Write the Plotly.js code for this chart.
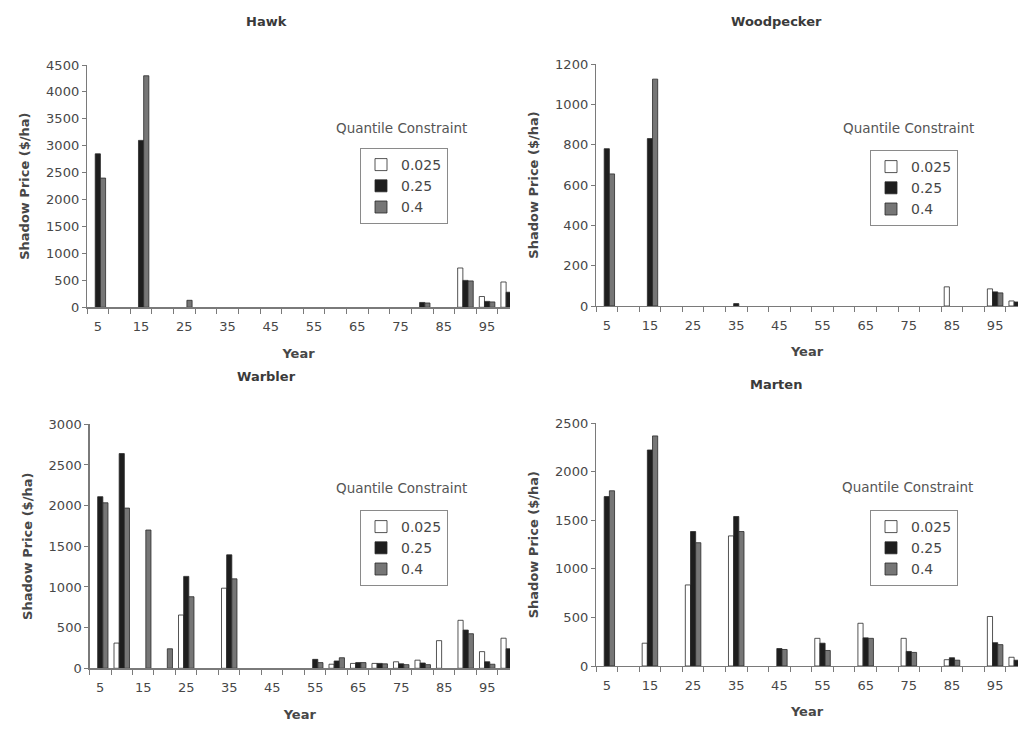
<!DOCTYPE html>
<html><head><meta charset="utf-8">
<script src="https://cdn.plot.ly/plotly-3.0.1.min.js"></script>
<style>html,body{margin:0;padding:0;background:#fff}#chart{width:1018px;height:730px}</style>
</head><body><div id="chart"></div>
<script>
// ---- data ----
const years = [5,10,15,20,25,30,35,40,45,50,55,60,65,70,75,80,85,90,95,100];
const tickLabels = ['5','15','25','35','45','55','65','75','85','95'];
const seriesNames = ['0.025','0.25','0.4'];
const speciesNames = ['Hawk','Woodpecker','Warbler','Marten'];

const hawk_q025 = [0,0,0,0,0,0,0,0,0,0,0,0,0,0,0,0,0,730,200,470];
const hawk_q25  = [2850,0,3100,0,0,0,0,0,0,0,0,0,0,0,0,90,0,500,110,280];
const hawk_q4   = [2400,0,4300,0,130,0,0,0,0,0,0,0,0,0,0,80,0,490,100,260];

const woodpecker_q025 = [0,0,0,0,0,0,0,0,0,0,0,0,0,0,0,0,95,0,85,25];
const woodpecker_q25  = [780,0,830,0,0,0,12,0,0,0,0,0,0,0,0,0,0,0,70,20];
const woodpecker_q4   = [655,0,1125,0,0,0,0,0,0,0,0,0,0,0,0,0,0,0,65,0];

const warbler_q025 = [0,310,0,0,655,0,985,0,0,0,0,50,60,60,80,100,340,590,205,370];
const warbler_q25  = [2110,2640,0,0,1130,0,1395,0,0,0,110,90,70,60,55,65,0,470,80,240];
const warbler_q4   = [2035,1970,1700,240,880,0,1100,0,0,0,70,130,70,55,45,45,0,425,50,240];

const marten_q025 = [0,0,235,0,835,0,1340,0,0,0,285,0,440,0,285,0,65,0,510,90];
const marten_q25  = [1745,0,2225,0,1385,0,1540,0,180,0,235,0,290,0,150,0,85,0,240,60];
const marten_q4   = [1805,0,2370,0,1270,0,1385,0,170,0,160,0,285,0,140,0,60,0,220,50];

const yMax = [4500,1200,3000,2500];
const yStep = [500,200,500,500];

const allData = [
  [hawk_q025, hawk_q25, hawk_q4],
  [woodpecker_q025, woodpecker_q25, woodpecker_q4],
  [warbler_q025, warbler_q25, warbler_q4],
  [marten_q025, marten_q25, marten_q4]
];

// ---- styles ----
const FONT = 'DejaVu Sans, Arial, sans-serif';
const TXT = '#474747';
const AXC = '#7a7a7a';
const fills = ['#ffffff','#1e1e1e','#767676'];
const W = 1018, H = 730;
const px = v => v / W;
const py = v => (H - v) / H;

// panel geometry in pixels: [left, right, top, bottom]
const panels = [
  [87, 510, 65, 307.3],
  [596, 1018, 64, 306],
  [89.5, 510, 424.3, 668.3],
  [596, 1018, 423.3, 666]
];
const titlePos = [[266,22],[776,22],[266,377],[776,384]];
const legPos = [[360,148],[870,150],[360,510],[870,510]];
const legTitlePos = [[401,128],[908,128],[401,488],[907,487]];

const cats = years.map(String);
// every other category is labelled, as in the original
const catText = cats.map(c => tickLabels.includes(c) ? c : '');
// the original plot is cut off at the middle of the last category
const xRange = [-0.5, years.length - 1 + 0.06];

const traces = [];
const layout = {
  width: W, height: H,
  margin: {l:0, r:0, t:0, b:0},
  paper_bgcolor: '#ffffff', plot_bgcolor: '#ffffff',
  barmode: 'group', bargap: 0.28, bargroupgap: 0,
  font: {family: FONT, color: TXT, size: 13},
  showlegend: true,
  annotations: []
};

speciesNames.forEach((sp, i) => {
  const n = i + 1;
  const xa = n === 1 ? 'x' : 'x' + n;
  const ya = n === 1 ? 'y' : 'y' + n;
  const lg = n === 1 ? 'legend' : 'legend' + n;
  seriesNames.forEach((s, j) => {
    traces.push({
      type: 'bar', x: cats, y: allData[i][j].map(v => v === 0 ? null : v), name: s,
      xaxis: xa, yaxis: ya, legend: lg,
      marker: {color: fills[j], line: {color: '#2a2a2a', width: 0.8}},
      hovertemplate: sp + ' ' + s + ': %{y}<extra></extra>'
    });
  });
  const p = panels[i];
  layout[n === 1 ? 'xaxis' : 'xaxis' + n] = {
    type: 'category', categoryorder: 'array', categoryarray: cats,
    domain: [px(p[0]), px(p[1])], anchor: ya,
    range: xRange, tickmode: 'array', tickvals: cats, ticktext: catText,
    tickson: 'boundaries', tickangle: 0,
    ticks: 'outside', ticklen: 5, tickcolor: AXC, tickwidth: 1,
    ticklabelstandoff: 7,
    showline: true, linecolor: AXC, linewidth: 1.2,
    showgrid: false, zeroline: false,
    tickfont: {family: FONT, size: 13, color: TXT},
    title: {text: '<b>Year</b>', font: {family: FONT, size: 13, color: TXT}, standoff: 15}
  };
  layout[n === 1 ? 'yaxis' : 'yaxis' + n] = {
    domain: [py(p[3]), py(p[2])], anchor: xa,
    range: [0, yMax[i]], dtick: yStep[i], tick0: 0,
    ticks: 'outside', ticklen: 4, tickcolor: AXC,
    showline: true, linecolor: AXC, linewidth: 1.2,
    showgrid: false, zeroline: false,
    tickfont: {family: FONT, size: 13, color: TXT},
    title: {text: '<b>Shadow Price ($/ha)</b>', font: {family: FONT, size: 13, color: TXT}, standoff: 13}
  };
  layout[lg] = {
    x: px(legPos[i][0]), y: py(legPos[i][1]), xanchor: 'left', yanchor: 'top',
    bordercolor: '#8a8a8a', borderwidth: 1, bgcolor: '#ffffff',
    font: {family: FONT, size: 14, color: TXT}, itemwidth: 30, tracegroupgap: 0,
    traceorder: 'normal'
  };
  layout.annotations.push({
    xref: 'paper', yref: 'paper', x: px(titlePos[i][0]), y: py(titlePos[i][1]),
    xanchor: 'center', yanchor: 'middle', showarrow: false,
    text: '<b>' + sp + '</b>', font: {family: FONT, size: 13, color: '#3a3a3a'}
  });
  layout.annotations.push({
    xref: 'paper', yref: 'paper', x: px(legTitlePos[i][0]), y: py(legTitlePos[i][1]),
    xanchor: 'center', yanchor: 'middle', showarrow: false,
    text: 'Quantile Constraint', font: {family: FONT, size: 13.5, color: '#555555'}
  });
});

Plotly.newPlot('chart', traces, layout, {staticPlot: true, displayModeBar: false});
</script></body></html>
